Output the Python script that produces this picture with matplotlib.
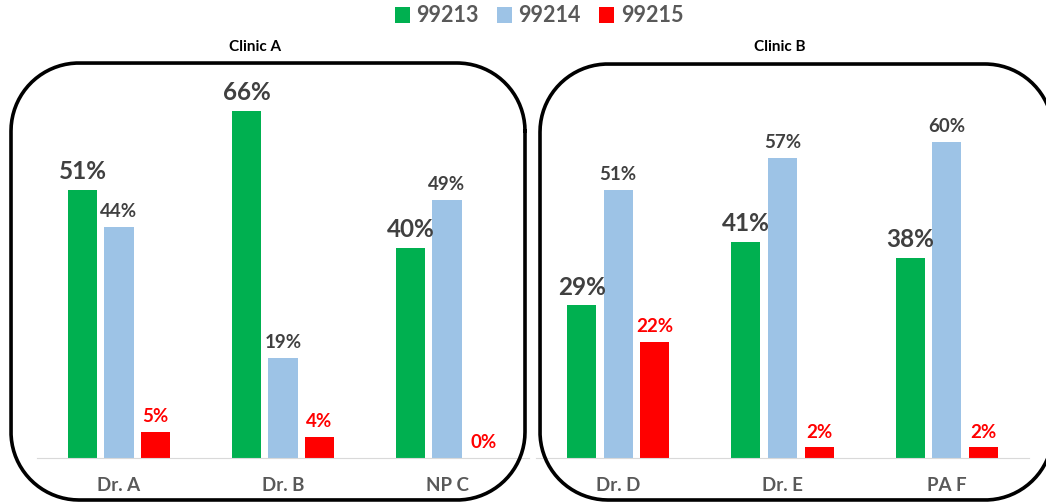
import matplotlib
matplotlib.use("Agg")
import matplotlib.pyplot as plt
from matplotlib.patches import Patch
import numpy as np

# data (percent of visits)
codes = ["99213", "99214", "99215"]
clinic_a_names = ["Dr. A", "Dr. B", "NP C"]
clinic_a_99213 = [51, 66, 40]
clinic_a_99214 = [44, 19, 49]
clinic_a_99215 = [5, 4, 0]
clinic_b_names = ["Dr. D", "Dr. E", "PA F"]
clinic_b_99213 = [29, 41, 38]
clinic_b_99214 = [51, 57, 60]
clinic_b_99215 = [22, 2, 2]

colors = ["#00b050", "#9dc3e6", "#ff0000"]
lab_colors = ["#404040", "#404040", "#ff0000"]
lab_sizes = [17.5, 13.5, 13.5]
fam = ["Lato", "DejaVu Sans"]
plt.rcParams["font.family"] = fam

W, H = 1046, 503
fig = plt.figure(figsize=(W / 100, H / 100), dpi=100)


def px_axes(x0, x1, ytop, ybot):
    return fig.add_axes([x0 / W, 1 - ybot / H, (x1 - x0) / W, (ybot - ytop) / H])


def panel(ax, names, series):
    x = np.arange(len(names))
    bw = 0.177
    step = 0.2225
    for i, vals in enumerate(series):
        xs = x + (i - 1) * step
        ax.bar(xs, vals, width=bw, color=colors[i], zorder=2)
        for xi, v in zip(xs, vals):
            ax.annotate(f"{v}%", (xi, v), xytext=(0, 5), textcoords="offset points",
                        ha="center", va="bottom", fontsize=lab_sizes[i],
                        fontweight="bold", color=lab_colors[i])
    ax.set_xlim(-0.5, len(names) - 0.5)
    ax.set_ylim(0, 75.1)
    ax.set_xticks(x)
    ax.set_xticklabels(names, fontsize=13.5, fontweight="bold", color="#595959")
    ax.tick_params(axis="x", length=0, pad=14)
    ax.set_yticks([])
    for s in ["top", "right", "left"]:
        ax.spines[s].set_visible(False)
    ax.spines["bottom"].set_color("#d9d9d9")
    ax.patch.set_alpha(0)


def rounded_outline(x0, y0, x1, y1, r, n=40):
    # polyline for a rounded rectangle (pixel units), avoids bezier clipping issues
    pts = []
    corners = [(x1 - r, y1 - r, 0), (x0 + r, y1 - r, 90),
               (x0 + r, y0 + r, 180), (x1 - r, y0 + r, 270)]
    for cx, cy, a0 in corners:
        t = np.radians(np.linspace(a0, a0 + 90, n))
        pts.append(np.column_stack([cx + r * np.cos(t), cy + r * np.sin(t)]))
    pts = np.vstack(pts + [pts[0][:1]])
    return pts[:, 0], pts[:, 1]


ax1 = px_axes(37, 529, 63, 458)
panel(ax1, clinic_a_names, [clinic_a_99213, clinic_a_99214, clinic_a_99215])
ax2 = px_axes(536, 1029, 63, 458)
panel(ax2, clinic_b_names, [clinic_b_99213, clinic_b_99214, clinic_b_99215])

fig.text(255 / W, 1 - 47 / H, "Clinic A", ha="center", va="center",
         fontsize=11, fontweight="bold", color="black")
fig.text(780 / W, 1 - 47 / H, "Clinic B", ha="center", va="center",
         fontsize=11, fontweight="bold", color="black")

# overlay axes in pixel units for the rounded frames
ov = fig.add_axes([0, 0, 1, 1])
ov.set_xlim(0, W)
ov.set_ylim(0, H)
ov.axis("off")
ov.patch.set_alpha(0)
for x0, x1, ytop, ybot in [(11, 525, 63, 500), (540, 1053, 64, 500)]:
    bx, by = rounded_outline(x0, H - ybot, x1, H - ytop, 68)
    ov.plot(bx, by, color="black", linewidth=2.6, solid_joinstyle="round")

handles = [Patch(facecolor=c, edgecolor="none") for c in colors]
fig.legend(handles, codes, loc="center", bbox_to_anchor=(539 / W, 1 - 16 / H),
           ncol=3, frameon=False, handlelength=0.7, handleheight=0.7,
           handletextpad=0.3, columnspacing=0.85,
           prop={"size": 15.5, "weight": "bold", "family": fam},
           labelcolor="#595959")

fig.savefig("out.png", dpi=100)
